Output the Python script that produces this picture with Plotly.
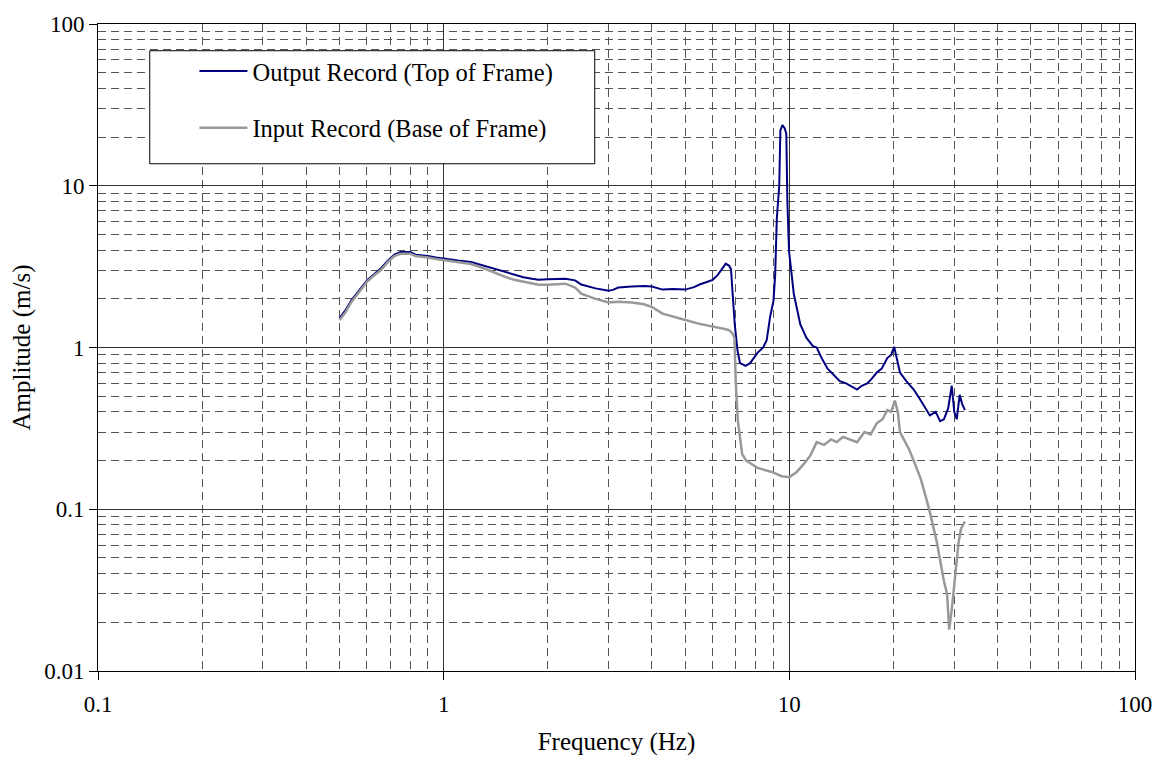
import plotly.graph_objects as go

# Output record (top of frame)
freq_output = [0.50, 0.52, 0.54, 0.57, 0.60, 0.63, 0.66, 0.69, 0.72, 0.75, 0.78, 0.80, 0.83, 0.87, 0.90, 0.95,
               1.00, 1.10, 1.20, 1.30, 1.40, 1.50, 1.60, 1.70, 1.80, 1.88, 2.00, 2.25, 2.40, 2.50, 2.75, 3.00,
               3.10, 3.20, 3.50, 3.80, 4.00, 4.15, 4.30, 4.60, 5.00, 5.30, 5.50, 5.80, 6.00, 6.20, 6.40, 6.55,
               6.70, 6.78, 6.85, 6.95, 7.08, 7.20, 7.47, 7.70, 8.10, 8.40, 8.60, 8.80, 9.00, 9.10, 9.20, 9.35,
               9.42, 9.55, 9.69, 9.80, 9.87, 9.98, 10.3, 10.76, 11.2, 11.7, 12.0, 12.4, 12.9, 13.4, 14.0, 14.6,
               15.2, 15.7, 16.2, 16.8, 17.3, 17.9, 18.5, 19.2, 19.7, 20.1, 20.5, 20.9, 21.8, 22.9, 24.0, 25.5,
               26.5, 27.3, 28.0, 28.8, 29.5, 30.0, 30.5, 31.1, 31.6, 32.2]
amp_output = [1.52, 1.70, 1.95, 2.25, 2.60, 2.85, 3.10, 3.45, 3.75, 3.90, 3.92, 3.90, 3.75, 3.72, 3.68, 3.60,
              3.54, 3.45, 3.38, 3.22, 3.05, 2.93, 2.82, 2.72, 2.66, 2.62, 2.64, 2.66, 2.60, 2.45, 2.32, 2.24,
              2.28, 2.35, 2.38, 2.40, 2.38, 2.34, 2.28, 2.30, 2.28, 2.36, 2.45, 2.55, 2.62, 2.80, 3.05, 3.30,
              3.20, 3.05, 2.20, 1.40, 0.96, 0.80, 0.77, 0.80, 0.93, 1.00, 1.11, 1.55, 1.95, 2.83, 6.30, 10.0,
              22.0, 23.7, 22.7, 21.0, 8.0, 3.95, 2.15, 1.39, 1.15, 1.02, 1.00, 0.86, 0.74, 0.68, 0.62, 0.60,
              0.57, 0.55, 0.58, 0.60, 0.64, 0.70, 0.74, 0.86, 0.90, 1.01, 0.84, 0.70, 0.62, 0.55, 0.47, 0.38,
              0.40, 0.35, 0.36, 0.42, 0.58, 0.40, 0.36, 0.51, 0.45, 0.41]

# Input record (base of frame)
freq_input = [0.50, 0.52, 0.54, 0.57, 0.60, 0.63, 0.66, 0.69, 0.72, 0.75, 0.78, 0.80, 0.83, 0.87, 0.90, 0.95,
              1.00, 1.10, 1.20, 1.30, 1.40, 1.50, 1.60, 1.70, 1.80, 1.88, 2.00, 2.25, 2.40, 2.50, 2.75, 3.00,
              3.20, 3.50, 3.80, 4.00, 4.30, 4.60, 5.00, 5.50, 6.00, 6.30, 6.50, 6.70, 6.85, 6.94, 7.00, 7.10,
              7.30, 7.50, 8.10, 8.90, 9.50, 10.0, 10.5, 11.0, 11.5, 12.0, 12.6, 13.2, 13.7, 14.3, 15.0, 15.7,
              16.5, 17.2, 17.9, 18.6, 19.2, 19.7, 20.2, 20.6, 20.9, 21.6, 22.3, 23.1, 24.0, 24.8, 25.5, 26.7,
              28.0, 28.6, 29.0, 29.5, 30.1, 30.5, 30.9, 31.4, 32.2]
amp_input = [1.48, 1.65, 1.90, 2.20, 2.55, 2.80, 3.02, 3.38, 3.68, 3.80, 3.82, 3.80, 3.68, 3.64, 3.60, 3.52,
             3.46, 3.36, 3.28, 3.10, 2.90, 2.74, 2.62, 2.55, 2.48, 2.44, 2.44, 2.48, 2.35, 2.15, 2.00, 1.90,
             1.92, 1.90, 1.85, 1.78, 1.62, 1.55, 1.48, 1.40, 1.35, 1.33, 1.30, 1.28, 1.22, 1.15, 0.60, 0.35,
             0.22, 0.20, 0.18, 0.17, 0.16, 0.158, 0.17, 0.19, 0.215, 0.26, 0.25, 0.27, 0.26, 0.28, 0.27, 0.26,
             0.30, 0.29, 0.34, 0.36, 0.41, 0.40, 0.47, 0.40, 0.30, 0.26, 0.23, 0.19, 0.154, 0.12, 0.096, 0.063,
             0.036, 0.030, 0.018, 0.024, 0.036, 0.050, 0.063, 0.076, 0.084]

x_tickvals = [0.1, 1, 10, 100]
x_ticktext = ["0.1", "1", "10", "100"]
y_tickvals = [0.01, 0.1, 1, 10, 100]
y_ticktext = ["0.01", "0.1", "1", "10", "100"]

FONT = "Liberation Serif"
FS_TICK = 23
FS_TITLE = 25
FS_LEG = 24.5

fig = go.Figure()
fig.add_trace(go.Scatter(x=freq_output, y=amp_output, mode="lines",
                         name="Output Record (Top of Frame)", legendgroup="a",
                         line=dict(color="#000080", width=2)))
fig.add_trace(go.Scatter(x=freq_input, y=amp_input, mode="lines",
                         name="Input Record (Base of Frame)", legendgroup="b",
                         line=dict(color="#999999", width=2.5)))

minor_grid = dict(dtick="D1", showgrid=True, griddash="8px,5px", gridcolor="#555555",
                  gridwidth=1, ticks="")

fig.update_xaxes(type="log", range=[-1, 2], tickvals=x_tickvals, ticktext=x_ticktext,
                 showgrid=True, gridcolor="#333333", gridwidth=1,
                 minor=minor_grid,
                 showline=True, linecolor="black", linewidth=1, mirror=True,
                 ticks="outside", ticklen=8, tickcolor="black",
                 ticklabelstandoff=4,
                 tickfont=dict(family=FONT, size=FS_TICK, color="black"),
                 title=dict(text="Frequency (Hz)", font=dict(family=FONT, size=FS_TITLE, color="black"),
                            standoff=16),
                 zeroline=False)
fig.update_yaxes(type="log", range=[-2, 2], tickvals=y_tickvals, ticktext=y_ticktext,
                 showgrid=True, gridcolor="#333333", gridwidth=1,
                 minor=minor_grid,
                 showline=True, linecolor="black", linewidth=1, mirror=True,
                 ticks="outside", ticklen=8, tickcolor="black",
                 tickfont=dict(family=FONT, size=FS_TICK, color="black"),
                 title=dict(text="Amplitude (m/s)", font=dict(family=FONT, size=FS_TITLE, color="black"),
                            standoff=6),
                 zeroline=False)

# legend frame
fig.add_shape(type="rect", xref="paper", yref="paper",
              x0=0.0499, x1=0.479, y0=0.784, y1=0.9587,
              line=dict(color="black", width=1), fillcolor="white", layer="above")

fig.update_layout(
    width=1164, height=763,
    margin=dict(l=98, r=24, t=18, b=92),
    paper_bgcolor="white", plot_bgcolor="white",
    font=dict(family=FONT, size=FS_TICK, color="black"),
    showlegend=True,
    legend=dict(x=0.093, y=0.962, xanchor="left", yanchor="top",
                bgcolor="rgba(0,0,0,0)", borderwidth=0,
                tracegroupgap=22, itemwidth=48,
                font=dict(family=FONT, size=FS_LEG, color="black")),
)

fig.write_html("out.html")
